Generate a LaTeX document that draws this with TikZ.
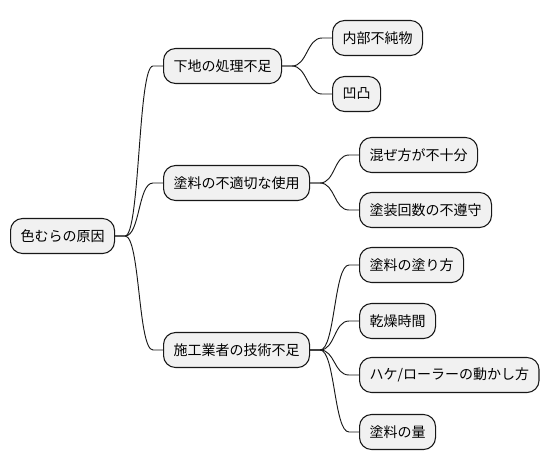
\documentclass[tikz,border=0pt]{standalone}
\usepackage{fontspec}
\setmainfont{Noto Sans CJK JP}
\usetikzlibrary{calc}
\definecolor{boxfill}{HTML}{F1F1F1}
\definecolor{boxline}{HTML}{181818}
\tikzset{
  topic/.style={draw=boxline, fill=boxfill, rounded corners=9pt, line width=0.8pt,
    minimum height=26.25pt, inner xsep=7.5pt, inner ysep=0pt, anchor=west,
    font=\fontsize{10.5}{12}\selectfont},
  branch/.style={draw=boxline, line width=0.7pt,
    to path={-- ++(10,0) .. controls +(15,0) and ($(\tikztotarget)+(-25,0)$) .. ($(\tikztotarget)+(-10,0)$) -- (\tikztotarget)}}
}

\begin{document}
\begin{tikzpicture}[x=0.75pt,y=-0.75pt]
  \useasboundingbox (0,0) rectangle (549,471);
  % root
  \node [topic] (root) at (10,236) {色むらの原因};
  % first level
  \node [topic] (base)  at (163,66)  {下地の処理不足};
  \node [topic] (paint) at (163,183) {塗料の不適切な使用};
  \node [topic] (skill) at (163,350) {施工業者の技術不足};
  % second level
  \node [topic] (impure) at (332,38)  {内部不純物};
  \node [topic] (bumps)  at (332,94)  {凹凸};
  \node [topic] (mix)    at (359,155) {混ぜ方が不十分};
  \node [topic] (coats)  at (359,210) {塗装回数の不遵守};
  \node [topic] (apply)  at (359,265) {塗料の塗り方};
  \node [topic] (dry)    at (359,321) {乾燥時間};
  \node [topic] (roller) at (359,375) {ハケ/ローラーの動かし方};
  \node [topic] (amount) at (359,432) {塗料の量};
  % branches
  \draw [branch] (root.east) to (base.west);
  \draw [branch] (root.east) to (paint.west);
  \draw [branch] (root.east) to (skill.west);
  \draw [branch] (base.east) to (impure.west);
  \draw [branch] (base.east) to (bumps.west);
  \draw [branch] (paint.east) to (mix.west);
  \draw [branch] (paint.east) to (coats.west);
  \draw [branch] (skill.east) to (apply.west);
  \draw [branch] (skill.east) to (dry.west);
  \draw [branch] (skill.east) to (roller.west);
  \draw [branch] (skill.east) to (amount.west);
\end{tikzpicture}
\end{document}
